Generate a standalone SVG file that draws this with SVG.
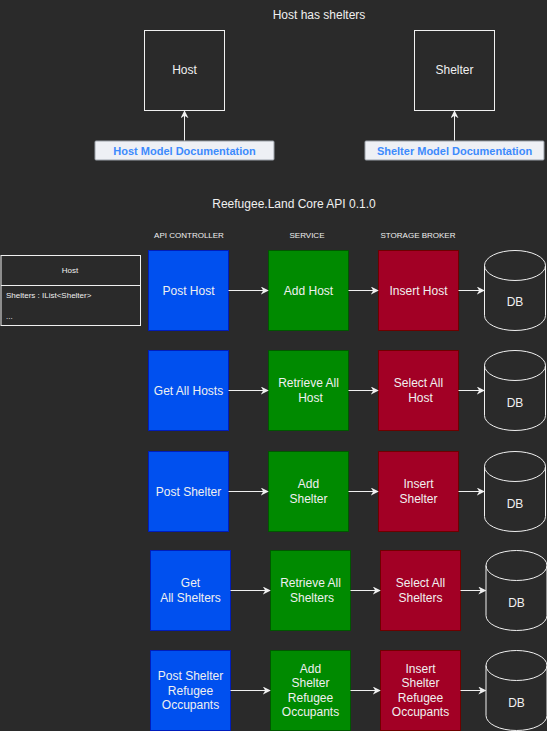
<svg xmlns="http://www.w3.org/2000/svg" width="547" height="731" viewBox="0 0 547 731">
<style>
text{font-family:"Liberation Sans",Arial,sans-serif;fill:#f0f0f0;text-anchor:middle;dominant-baseline:central}
.t12{font-size:12px}
.hdr{font-size:8px}
.box{font-size:12px}
.blue{fill:#0050ef;stroke:#001dbc;stroke-width:1}
.green{fill:#008a00;stroke:#005700;stroke-width:1}
.red{fill:#a20025;stroke:#6f0000;stroke-width:1}
.db{fill:none;stroke:#f0f0f0;stroke-width:1}
.outline{fill:none;stroke:#f0f0f0;stroke-width:1}
.btn{fill:#eef0f5;stroke:#9aa0a8;stroke-width:1}
.btnt{font-size:11px;font-weight:bold;fill:#3d8bfd}
.conn{stroke:#f0f0f0;stroke-width:1;fill:none;marker-end:url(#arr)}
.sm{font-size:8px}
</style>
<defs>
<marker id="arr" viewBox="0 0 10 10" refX="9" refY="5" markerWidth="8" markerHeight="8" markerUnits="userSpaceOnUse" orient="auto">
<path d="M0,0 L10,5 L0,10 L3,5 Z" fill="#f0f0f0"/>
</marker>
<g id="cyl">
<path class="db" d="M0,15 A30.5,15 0 0 1 61,15 L61,65 A30.5,15 0 0 1 0,65 Z M0,15 A30.5,15 0 0 0 61,15"/>
</g>
</defs>
<rect width="547" height="731" fill="#2a2a2a"/>

<text class="t12" x="319" y="15">Host has shelters</text>
<text class="t12" x="294" y="204">Reefugee.Land Core API 0.1.0</text>
<text class="hdr" x="189" y="235">API CONTROLLER</text>
<text class="hdr" x="307" y="235">SERVICE</text>
<text class="hdr" x="418" y="235">STORAGE BROKER</text>

<g id="host-model">
<rect class="outline" x="144.5" y="30.5" width="80" height="80"/>
<text class="t12" x="184.5" y="70">Host</text>
</g>
<g id="shelter-model">
<rect class="outline" x="414.5" y="30.5" width="80" height="80"/>
<text class="t12" x="454.5" y="70">Shelter</text>
</g>
<g id="host-doc">
<rect class="btn" x="95" y="141" width="179" height="19" rx="1"/>
<text class="btnt" x="184.5" y="150.5">Host Model Documentation</text>
</g>
<g id="shelter-doc">
<rect class="btn" x="365" y="141" width="179" height="19" rx="1"/>
<text class="btnt" x="454.5" y="150.5">Shelter Model Documentation</text>
</g>

<g id="host-class">
<rect class="outline" x="1" y="255.5" width="139.5" height="70"/>
<line class="outline" x1="1" y1="285.5" x2="140.5" y2="285.5"/>
<text class="sm" x="70" y="270.5">Host</text>
<text class="sm" x="6" y="295.5" style="text-anchor:start">Shelters  : IList&lt;Shelter&gt;</text>
<text class="sm" x="6" y="316" style="text-anchor:start">...</text>
</g>

<!-- Row 1 -->
<g id="post-host"><rect class="blue" x="148.5" y="250.5" width="80" height="80"/><text class="box" x="188.5" y="290.5">Post Host</text></g>
<g id="add-host"><rect class="green" x="268.5" y="250.5" width="80" height="80"/><text class="box" x="308.5" y="290.5">Add Host</text></g>
<g id="insert-host"><rect class="red" x="378.5" y="250.5" width="80" height="80"/><text class="box" x="418.5" y="290.5">Insert Host</text></g>
<g id="db1"><use href="#cyl" x="484.5" y="250.5"/><text class="box" x="515" y="302">DB</text></g>

<!-- Row 2 -->
<g id="get-all-hosts"><rect class="blue" x="148.5" y="350.5" width="80" height="80"/><text class="box" x="188.5" y="390.5">Get All Hosts</text></g>
<g id="retrieve-all-host"><rect class="green" x="268.5" y="350.5" width="80" height="80"/><text class="box" x="308.5" y="383">Retrieve All</text><text class="box" x="310.5" y="398">Host</text></g>
<g id="select-all-host"><rect class="red" x="378.5" y="350.5" width="80" height="80"/><text class="box" x="418.5" y="383">Select All</text><text class="box" x="420.5" y="398">Host</text></g>
<g id="db2"><use href="#cyl" x="484.5" y="350.5"/><text class="box" x="515" y="402.5">DB</text></g>

<!-- Row 3 -->
<g id="post-shelter"><rect class="blue" x="148.5" y="451.5" width="80" height="80"/><text class="box" x="188.5" y="491.5">Post Shelter</text></g>
<g id="add-shelter"><rect class="green" x="268.5" y="451.5" width="80" height="80"/><text class="box" x="308.5" y="484">Add</text><text class="box" x="308.5" y="499">Shelter</text></g>
<g id="insert-shelter"><rect class="red" x="378.5" y="451.5" width="80" height="80"/><text class="box" x="418.5" y="484">Insert</text><text class="box" x="418.5" y="499">Shelter</text></g>
<g id="db3"><use href="#cyl" x="484.5" y="451.5"/><text class="box" x="515" y="503.5">DB</text></g>

<!-- Row 4 -->
<g id="get-all-shelters"><rect class="blue" x="150.5" y="550.5" width="80" height="80"/><text class="box" x="190.5" y="583">Get</text><text class="box" x="190.5" y="598">All Shelters</text></g>
<g id="retrieve-all-shelters"><rect class="green" x="270.5" y="550.5" width="80" height="80"/><text class="box" x="310.5" y="583">Retrieve All</text><text class="box" x="312" y="598">Shelters</text></g>
<g id="select-all-shelters"><rect class="red" x="380.5" y="550.5" width="80" height="80"/><text class="box" x="420.5" y="583">Select All</text><text class="box" x="420.5" y="598">Shelters</text></g>
<g id="db4"><use href="#cyl" x="486" y="550.5"/><text class="box" x="516.5" y="602.5">DB</text></g>

<!-- Row 5 -->
<g id="post-shelter-occupants"><rect class="blue" x="150.5" y="650.5" width="80" height="80"/><text class="box" x="190.5" y="676">Post Shelter</text><text class="box" x="190.5" y="690.5">Refugee</text><text class="box" x="190.5" y="705">Occupants</text></g>
<g id="add-shelter-occupants"><rect class="green" x="270.5" y="650.5" width="80" height="80"/><text class="box" x="310.5" y="669">Add</text><text class="box" x="310.5" y="683">Shelter</text><text class="box" x="310.5" y="698">Refugee</text><text class="box" x="310.5" y="712">Occupants</text></g>
<g id="insert-shelter-occupants"><rect class="red" x="380.5" y="650.5" width="80" height="80"/><text class="box" x="420.5" y="669">Insert</text><text class="box" x="420.5" y="683">Shelter</text><text class="box" x="420.5" y="698">Refugee</text><text class="box" x="420.5" y="712">Occupants</text></g>
<g id="db5"><use href="#cyl" x="486" y="650.5"/><text class="box" x="516.5" y="702.5">DB</text></g>

<g id="connectors">
<line class="conn" x1="184.5" y1="140.5" x2="184.5" y2="111"/>
<line class="conn" x1="454.5" y1="140.5" x2="454.5" y2="111"/>
<line class="conn" x1="228.5" y1="290.5" x2="268" y2="290.5"/>
<line class="conn" x1="348.5" y1="290.5" x2="378" y2="290.5"/>
<line class="conn" x1="458.5" y1="290.5" x2="484" y2="290.5"/>
<line class="conn" x1="228.5" y1="390.5" x2="268" y2="390.5"/>
<line class="conn" x1="348.5" y1="390.5" x2="378" y2="390.5"/>
<line class="conn" x1="458.5" y1="390.5" x2="484" y2="390.5"/>
<line class="conn" x1="228.5" y1="491.5" x2="268" y2="491.5"/>
<line class="conn" x1="348.5" y1="491.5" x2="378" y2="491.5"/>
<line class="conn" x1="458.5" y1="491.5" x2="484" y2="491.5"/>
<line class="conn" x1="230.5" y1="590.5" x2="270" y2="590.5"/>
<line class="conn" x1="350.5" y1="590.5" x2="380" y2="590.5"/>
<line class="conn" x1="460.5" y1="590.5" x2="485.5" y2="590.5"/>
<line class="conn" x1="230.5" y1="690.5" x2="270" y2="690.5"/>
<line class="conn" x1="350.5" y1="690.5" x2="380" y2="690.5"/>
<line class="conn" x1="460.5" y1="690.5" x2="485.5" y2="690.5"/>
</g>
</svg>
